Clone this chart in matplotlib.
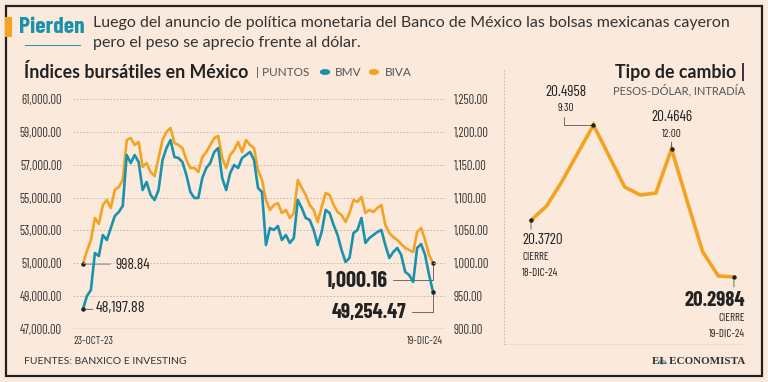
import matplotlib
matplotlib.use("Agg")
import matplotlib.pyplot as plt
from matplotlib.patches import Rectangle, Circle
from matplotlib.lines import Line2D

# serie diaria aproximada, 23-oct-23 a 19-dic-24
bmv = [48197.88, 49009, 49374, 51626, 51444, 52722, 52417, 53148, 53878, 54122,
       54487, 57591, 57104, 57591, 57165, 55461, 55948, 55157, 54852, 55461,
       57287, 58017, 58504, 57470, 57409, 57165, 56374, 55339, 54974, 54974,
       56191, 56800, 57104, 57774, 58017, 56191, 55461, 56496, 56983, 56800,
       57409, 57591, 57774, 57287, 55583, 55339, 52113, 53148, 53026, 53270,
       52417, 52722, 52235, 52539, 54852, 54365, 53757, 53635, 53026, 52113,
       52904, 54244, 54061, 53330, 52722, 51809, 51078, 51322, 52844, 53026,
       53757, 52235, 52539, 52722, 52904, 53026, 52113, 51322, 51687, 51930,
       51504, 50470, 50287, 49861, 51930, 52174, 51504, 50287, 49254.47]
biva = [998.84, 1018.7, 1035.4, 1068.9, 1059.8, 1088.7, 1096.3, 1084.1, 1111.5, 1116.1,
        1126.7, 1187.6, 1190.6, 1180.0, 1184.6, 1146.5, 1152.6, 1138.9, 1132.8, 1160.2,
        1187.6, 1199.8, 1205.9, 1183.0, 1180.0, 1175.4, 1157.2, 1145.0, 1145.0, 1138.9,
        1161.7, 1169.3, 1180.0, 1190.6, 1193.7, 1160.2, 1145.0, 1164.8, 1172.4, 1184.6,
        1169.3, 1187.6, 1180.0, 1175.4, 1141.9, 1126.7, 1096.3, 1081.1, 1088.7, 1091.7,
        1076.5, 1081.1, 1068.9, 1076.5, 1126.7, 1114.6, 1103.9, 1088.7, 1081.1, 1062.8,
        1085.6, 1107.0, 1103.9, 1088.7, 1078.0, 1073.5, 1062.8, 1076.5, 1096.3, 1093.3,
        1100.9, 1076.5, 1081.1, 1078.0, 1084.1, 1088.7, 1058.3, 1046.1, 1040.0, 1035.4,
        1029.3, 1023.3, 1020.2, 1017.2, 1047.6, 1053.7, 1035.4, 1012.6, 1000.16]
fecha_ini = "23-OCT-23"
fecha_fin = "19-DIC-24"
ticks_bmv = [47000, 49000, 51000, 53000, 55000, 57000, 59000, 61000]
ticks_biva = [900, 950, 1000, 1050, 1100, 1150, 1200, 1250]

# tipo de cambio intradia
horas = ["cierre 18-dic", "8:00", "8:30", "9:00", "9:30", "10:00", "10:30", "11:00",
         "11:30", "12:00", "12:30", "13:00", "13:30", "cierre 19-dic"]
tc = [20.3720, 20.3906, 20.4231, 20.4594, 20.4958, 20.4555, 20.4153, 20.4049,
      20.4075, 20.4646, 20.3971, 20.3309, 20.2997, 20.2984]

TEAL = "#1a92ad"
ORANGE = "#f4a320"
BG = "#fbe9dc"
DARK = "#222222"
GRAY = "#555555"
SANS = ["Lato", "DejaVu Sans"]

plt.rcParams['font.family'] = ['Barlow Condensed', 'DejaVu Sans']

W, H = 768, 382
fig = plt.figure(figsize=(W / 100, H / 100), dpi=100, facecolor=BG)


def rect(x0, y0, x1, y1):
    return [x0 / W, 1 - y1 / H, (x1 - x0) / W, (y1 - y0) / H]


def txt(x, y, s, **kw):
    kw.setdefault("va", "center")
    kw.setdefault("color", DARK)
    fig.text(x / W, 1 - y / H, s, **kw)


# marco y encabezado
fig.add_artist(Rectangle((6 / W, 1 - 376 / H), 756 / W, 370 / H, transform=fig.transFigure,
                         fill=False, lw=1.6, edgecolor=DARK))
fig.add_artist(Rectangle((5 / W, 1 - 37 / H), 7 / W, 20 / H, transform=fig.transFigure,
                         color=ORANGE, lw=0))
fig.add_artist(Line2D([25 / W, 80 / W], [1 - 45 / H, 1 - 45 / H], transform=fig.transFigure,
                      color=TEAL, lw=0.7))
txt(19, 27, "Pierden", fontsize=17, fontweight="bold", color=TEAL)
txt(93, 23, "Luego del anuncio de política monetaria del Banco de México las bolsas mexicanas cayeron",
    fontsize=11.5, family=SANS, color="#333333")
txt(93, 43, "pero el peso se aprecio frente al dólar.",
    fontsize=11.5, family=SANS, color="#333333")

txt(24, 72, "Índices bursátiles en México", fontsize=12.8, fontweight="bold", family=SANS)
txt(256, 72, "| PUNTOS", fontsize=8.5, color=GRAY, family=SANS)
fig.add_artist(Circle((325 / W, 1 - 72 / H), 4.5 / W, transform=fig.transFigure, color=TEAL))
txt(335, 72, "BMV", fontsize=8.5, color=GRAY, family=SANS)
fig.add_artist(Circle((374 / W, 1 - 72 / H), 4.5 / W, transform=fig.transFigure, color=ORANGE))
txt(385, 72, "BIVA", fontsize=8.5, color=GRAY, family=SANS)

# indices bursatiles
ax = fig.add_axes(rect(73, 99, 445, 329))
ax2 = ax.twinx()
for a in (ax, ax2):
    a.set_facecolor("none")
    for s in a.spines.values():
        s.set_visible(False)
    a.tick_params(length=0, labelsize=9, labelcolor="#333333")
n = len(bmv)
ax.set_xlim(-2.5, n - 1 + 3.0)
ax.set_ylim(ticks_bmv[0], ticks_bmv[-1])
ax2.set_ylim(ticks_biva[0], ticks_biva[-1])
ax.set_yticks(ticks_bmv)
ax.set_yticklabels([f"{v:,.2f}" for v in ticks_bmv])
ax2.set_yticks(ticks_biva)
ax2.set_yticklabels([f"{v:,.2f}" for v in ticks_biva])
ax.tick_params(axis="y", pad=8)
ax2.tick_params(axis="y", pad=6)
ax.set_xticks([])
for v in ticks_bmv[1:]:
    ax.axhline(v, color="#bdb3ab", lw=0.6, ls=(0, (2, 2)), zorder=0)
ax.axhline(ticks_bmv[0], color="#8a8580", lw=0.9, zorder=0)

ax.plot(range(n), bmv, color=TEAL, lw=1.9, zorder=3)
ax2.plot(range(len(biva)), biva, color=ORANGE, lw=1.9, zorder=2)
ax.set_zorder(ax2.get_zorder() + 1)
for a, s in ((ax, bmv), (ax2, biva)):
    a.plot([0, len(s) - 1], [s[0], s[-1]], "o", color=DARK, ms=2.2, zorder=5)

line_kw = dict(arrowstyle="-", lw=0.6, color=GRAY, shrinkA=0, shrinkB=0)
ax2.annotate("", xy=(0, biva[0]), xytext=(27, 0), textcoords="offset pixels",
             arrowprops=line_kw)
ax.annotate("", xy=(0, bmv[0]), xytext=(10, 0), textcoords="offset pixels",
            arrowprops=line_kw)
ax2.annotate("", xy=(n - 1, biva[-1]), xytext=(-40, -17), textcoords="offset pixels",
             arrowprops=dict(line_kw, connectionstyle="angle,angleA=0,angleB=90,rad=0"))
ax.annotate("", xy=(n - 1, bmv[-1]), xytext=(-21, -20), textcoords="offset pixels",
            arrowprops=dict(line_kw, connectionstyle="angle,angleA=0,angleB=90,rad=0"))
txt(115, 265, f"{biva[0]:,.2f}", fontsize=11)
txt(96, 308, f"{bmv[0]:,.2f}", fontsize=11.5)
txt(388, 281, f"{biva[-1]:,.2f}", fontsize=16, fontweight="bold", ha="right")
txt(406, 312, f"{bmv[-1]:,.2f}", fontsize=15, fontweight="bold", ha="right")
txt(73, 341, fecha_ini, fontsize=8, color="#333333")
txt(443, 341, fecha_fin, fontsize=8, color="#333333", ha="right")
txt(24, 361, "FUENTES: BANXICO E INVESTING", fontsize=7.5, color="#333333", family=SANS)

# tipo de cambio
bx = fig.add_axes(rect(504, 65, 743, 345))
bx.set_facecolor("none")
for s in bx.spines.values():
    s.set_visible(False)
bx.set_xticks([])
bx.set_yticks([])
m = len(tc)
bx.set_xlim(-1.73, m - 1 + 0.58)
bx.set_ylim(20.2101, 20.5737)
bx.axvline(-1.73, color="#bdb3ab", lw=0.6, ls=(0, (2, 2)), ymin=0, ymax=0.99)
bx.axhline(20.2101, color="#8a8580", lw=0.9)
bx.plot(range(m), tc, color=ORANGE, lw=2.6, solid_joinstyle="miter")
i_max = tc.index(max(tc))
i_max2 = 9
for i in (0, i_max, i_max2, m - 1):
    bx.plot(i, tc[i], "o", color=DARK, ms=2.2, zorder=5)
bx.annotate("", xy=(i_max, tc[i_max]), xytext=(-29, 8), textcoords="offset pixels",
            arrowprops=dict(line_kw, connectionstyle="angle,angleA=90,angleB=0,rad=0"))
bx.annotate("", xy=(i_max2, tc[i_max2]), xytext=(0, 7), textcoords="offset pixels",
            arrowprops=line_kw)
bx.annotate("", xy=(0, tc[0]), xytext=(0, -9), textcoords="offset pixels",
            arrowprops=line_kw)
bx.annotate("", xy=(m - 1, tc[-1]), xytext=(0, -10), textcoords="offset pixels",
            arrowprops=line_kw)

txt(745, 72, "Tipo de cambio |", fontsize=12.8, fontweight="bold", ha="right", family=SANS)
txt(745, 90, "PESOS-DÓLAR, INTRADÍA", fontsize=8, color=GRAY, ha="right", family=SANS)
txt(566, 92, f"{tc[i_max]:.4f}", fontsize=11, ha="center")
txt(566, 108, horas[i_max], fontsize=8, ha="center")
txt(672, 117, f"{tc[i_max2]:.4f}", fontsize=11, ha="center")
txt(672, 134, horas[i_max2], fontsize=8, ha="center")
txt(522, 240, f"{tc[0]:.4f}", fontsize=11)
txt(522, 257, "CIERRE", fontsize=8)
txt(522, 273, "18-DIC-24", fontsize=8)
txt(745, 301, f"{tc[-1]:.4f}", fontsize=15, fontweight="bold", ha="right")
txt(745, 318, "CIERRE", fontsize=8, ha="right")
txt(745, 334, "19-DIC-24", fontsize=8, ha="right")

fig.add_artist(Circle((662 / W, 1 - 362 / H), 3.5 / W, transform=fig.transFigure,
                      color="#8fb8c8"))
txt(745, 362, "EL ECONOMISTA", fontsize=8, fontweight="bold", ha="right",
    family=["Liberation Serif", "DejaVu Serif"], color="#333333")

fig.savefig("out.png", dpi=100, facecolor=BG)
